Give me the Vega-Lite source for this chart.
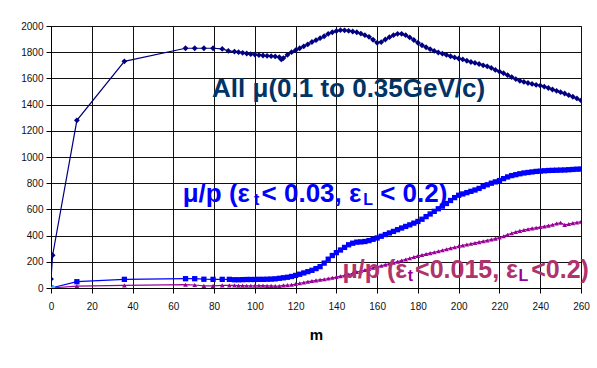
{
  "$schema": "https://vega.github.io/schema/vega-lite/v6.json",
  "width": 530,
  "height": 262,
  "autosize": {"type": "none"},
  "padding": {"left": 51, "top": 26, "right": 16, "bottom": 80},
  "background": "white",
  "config": {
    "view": {"stroke": "#000", "strokeWidth": 1},
    "font": "Liberation Sans",
    "axis": {
      "grid": true, "gridColor": "#111", "gridOpacity": 1, "gridWidth": 1,
      "domainColor": "#000", "tickColor": "#000", "tickSize": 5,
      "labelFont": "Liberation Sans", "labelFontSize": 10, "labelColor": "#111",
      "labelOverlap": false, "format": "d",
      "titleFont": "Liberation Sans"
    }
  },
  "datasets": {
    "series": [
      {"s":"all","m":0,"v":68},{"s":"all","m":0.8,"v":250},{"s":"all","m":12.7,"v":1280},{"s":"all","m":36,"v":1730},{"s":"all","m":66,"v":1830},{"s":"all","m":70.5,"v":1830},{"s":"all","m":75,"v":1830},{"s":"all","m":79.5,"v":1830},{"s":"all","m":84,"v":1825},{"s":"all","m":87,"v":1810},{"s":"all","m":90,"v":1805},{"s":"all","m":92,"v":1800},{"s":"all","m":94,"v":1795},{"s":"all","m":96,"v":1790},{"s":"all","m":98,"v":1785},{"s":"all","m":100,"v":1782},{"s":"all","m":102,"v":1778},{"s":"all","m":104,"v":1775},{"s":"all","m":106,"v":1772},{"s":"all","m":108,"v":1770},{"s":"all","m":110,"v":1768},{"s":"all","m":112,"v":1762},{"s":"all","m":113,"v":1745},{"s":"all","m":114,"v":1755},{"s":"all","m":116,"v":1780},{"s":"all","m":118,"v":1800},{"s":"all","m":120,"v":1815},{"s":"all","m":122,"v":1830},{"s":"all","m":124,"v":1845},{"s":"all","m":126,"v":1860},{"s":"all","m":128,"v":1878},{"s":"all","m":130,"v":1892},{"s":"all","m":132,"v":1907},{"s":"all","m":134,"v":1922},{"s":"all","m":136,"v":1940},{"s":"all","m":138,"v":1952},{"s":"all","m":140,"v":1962},{"s":"all","m":142,"v":1968},{"s":"all","m":144,"v":1967},{"s":"all","m":146,"v":1963},{"s":"all","m":148,"v":1958},{"s":"all","m":150,"v":1952},{"s":"all","m":152,"v":1942},{"s":"all","m":154,"v":1930},{"s":"all","m":156,"v":1917},{"s":"all","m":158,"v":1895},{"s":"all","m":160,"v":1872},{"s":"all","m":162,"v":1877},{"s":"all","m":164,"v":1897},{"s":"all","m":166,"v":1915},{"s":"all","m":168,"v":1930},{"s":"all","m":170,"v":1940},{"s":"all","m":172,"v":1940},{"s":"all","m":174,"v":1930},{"s":"all","m":176,"v":1913},{"s":"all","m":178,"v":1893},{"s":"all","m":180,"v":1872},{"s":"all","m":182,"v":1853},{"s":"all","m":184,"v":1838},{"s":"all","m":186,"v":1823},{"s":"all","m":188,"v":1810},{"s":"all","m":190,"v":1798},{"s":"all","m":192,"v":1789},{"s":"all","m":194,"v":1779},{"s":"all","m":196,"v":1769},{"s":"all","m":198,"v":1760},{"s":"all","m":200,"v":1752},{"s":"all","m":202,"v":1745},{"s":"all","m":204,"v":1735},{"s":"all","m":206,"v":1725},{"s":"all","m":208,"v":1718},{"s":"all","m":210,"v":1710},{"s":"all","m":212,"v":1700},{"s":"all","m":214,"v":1692},{"s":"all","m":216,"v":1680},{"s":"all","m":218,"v":1665},{"s":"all","m":220,"v":1652},{"s":"all","m":222,"v":1640},{"s":"all","m":224,"v":1625},{"s":"all","m":226,"v":1610},{"s":"all","m":228,"v":1595},{"s":"all","m":230,"v":1582},{"s":"all","m":232,"v":1573},{"s":"all","m":234,"v":1565},{"s":"all","m":236,"v":1558},{"s":"all","m":238,"v":1550},{"s":"all","m":240,"v":1545},{"s":"all","m":242,"v":1537},{"s":"all","m":244,"v":1527},{"s":"all","m":246,"v":1515},{"s":"all","m":248,"v":1505},{"s":"all","m":250,"v":1495},{"s":"all","m":252,"v":1485},{"s":"all","m":254,"v":1472},{"s":"all","m":256,"v":1460},{"s":"all","m":258,"v":1447},{"s":"all","m":260,"v":1432},
      {"s":"b","m":0,"v":0},{"s":"b","m":12.7,"v":48},{"s":"b","m":36,"v":66},{"s":"b","m":66,"v":71},{"s":"b","m":70.5,"v":71},{"s":"b","m":75,"v":67},{"s":"b","m":79.5,"v":66},{"s":"b","m":84,"v":66},{"s":"b","m":87.5,"v":66},{"s":"b","m":90,"v":63},{"s":"b","m":92,"v":63},{"s":"b","m":94,"v":64},{"s":"b","m":96,"v":65},{"s":"b","m":98,"v":65},{"s":"b","m":100,"v":65},{"s":"b","m":102,"v":66},{"s":"b","m":104,"v":66},{"s":"b","m":106,"v":67},{"s":"b","m":108,"v":68},{"s":"b","m":110,"v":70},{"s":"b","m":112,"v":74},{"s":"b","m":114,"v":78},{"s":"b","m":116,"v":82},{"s":"b","m":118,"v":88},{"s":"b","m":120,"v":96},{"s":"b","m":122,"v":105},{"s":"b","m":124,"v":115},{"s":"b","m":126,"v":125},{"s":"b","m":128,"v":135},{"s":"b","m":130,"v":148},{"s":"b","m":132,"v":163},{"s":"b","m":134,"v":190},{"s":"b","m":136,"v":220},{"s":"b","m":138,"v":248},{"s":"b","m":140,"v":270},{"s":"b","m":142,"v":290},{"s":"b","m":144,"v":310},{"s":"b","m":146,"v":330},{"s":"b","m":148,"v":342},{"s":"b","m":150,"v":350},{"s":"b","m":152,"v":352},{"s":"b","m":154,"v":355},{"s":"b","m":156,"v":362},{"s":"b","m":158,"v":372},{"s":"b","m":160,"v":382},{"s":"b","m":162,"v":395},{"s":"b","m":164,"v":408},{"s":"b","m":166,"v":420},{"s":"b","m":168,"v":432},{"s":"b","m":170,"v":445},{"s":"b","m":172,"v":458},{"s":"b","m":174,"v":470},{"s":"b","m":176,"v":482},{"s":"b","m":178,"v":495},{"s":"b","m":180,"v":508},{"s":"b","m":182,"v":525},{"s":"b","m":184,"v":545},{"s":"b","m":186,"v":565},{"s":"b","m":188,"v":585},{"s":"b","m":190,"v":605},{"s":"b","m":192,"v":625},{"s":"b","m":194,"v":645},{"s":"b","m":196,"v":668},{"s":"b","m":198,"v":690},{"s":"b","m":200,"v":708},{"s":"b","m":202,"v":718},{"s":"b","m":204,"v":728},{"s":"b","m":206,"v":738},{"s":"b","m":208,"v":748},{"s":"b","m":210,"v":760},{"s":"b","m":212,"v":775},{"s":"b","m":214,"v":788},{"s":"b","m":216,"v":800},{"s":"b","m":218,"v":810},{"s":"b","m":220,"v":820},{"s":"b","m":222,"v":835},{"s":"b","m":224,"v":848},{"s":"b","m":226,"v":858},{"s":"b","m":228,"v":865},{"s":"b","m":230,"v":872},{"s":"b","m":232,"v":878},{"s":"b","m":234,"v":882},{"s":"b","m":236,"v":886},{"s":"b","m":238,"v":890},{"s":"b","m":240,"v":892},{"s":"b","m":242,"v":895},{"s":"b","m":244,"v":897},{"s":"b","m":246,"v":898},{"s":"b","m":248,"v":899},{"s":"b","m":250,"v":900},{"s":"b","m":252,"v":901},{"s":"b","m":254,"v":903},{"s":"b","m":256,"v":905},{"s":"b","m":258,"v":907},{"s":"b","m":260,"v":908},
      {"s":"p","m":0,"v":0},{"s":"p","m":12.7,"v":15},{"s":"p","m":36,"v":20},{"s":"p","m":66,"v":25},{"s":"p","m":70.5,"v":23},{"s":"p","m":75,"v":16},{"s":"p","m":79.5,"v":16},{"s":"p","m":84,"v":20},{"s":"p","m":87.5,"v":20},{"s":"p","m":90,"v":20},{"s":"p","m":92,"v":18},{"s":"p","m":94,"v":18},{"s":"p","m":96,"v":17},{"s":"p","m":98,"v":17},{"s":"p","m":100,"v":17},{"s":"p","m":102,"v":18},{"s":"p","m":104,"v":18},{"s":"p","m":106,"v":16},{"s":"p","m":108,"v":16},{"s":"p","m":110,"v":15},{"s":"p","m":112,"v":15},{"s":"p","m":114,"v":20},{"s":"p","m":116,"v":22},{"s":"p","m":118,"v":25},{"s":"p","m":120,"v":30},{"s":"p","m":122,"v":36},{"s":"p","m":124,"v":42},{"s":"p","m":126,"v":48},{"s":"p","m":128,"v":53},{"s":"p","m":130,"v":58},{"s":"p","m":132,"v":63},{"s":"p","m":134,"v":67},{"s":"p","m":136,"v":72},{"s":"p","m":138,"v":78},{"s":"p","m":140,"v":84},{"s":"p","m":142,"v":90},{"s":"p","m":144,"v":95},{"s":"p","m":146,"v":102},{"s":"p","m":148,"v":112},{"s":"p","m":150,"v":122},{"s":"p","m":152,"v":130},{"s":"p","m":154,"v":137},{"s":"p","m":156,"v":145},{"s":"p","m":158,"v":155},{"s":"p","m":160,"v":163},{"s":"p","m":162,"v":170},{"s":"p","m":164,"v":178},{"s":"p","m":166,"v":185},{"s":"p","m":168,"v":193},{"s":"p","m":170,"v":201},{"s":"p","m":172,"v":210},{"s":"p","m":174,"v":218},{"s":"p","m":176,"v":227},{"s":"p","m":178,"v":236},{"s":"p","m":180,"v":245},{"s":"p","m":182,"v":252},{"s":"p","m":184,"v":259},{"s":"p","m":186,"v":266},{"s":"p","m":188,"v":273},{"s":"p","m":190,"v":280},{"s":"p","m":192,"v":288},{"s":"p","m":194,"v":296},{"s":"p","m":196,"v":304},{"s":"p","m":198,"v":311},{"s":"p","m":200,"v":318},{"s":"p","m":202,"v":325},{"s":"p","m":204,"v":332},{"s":"p","m":206,"v":338},{"s":"p","m":208,"v":344},{"s":"p","m":210,"v":350},{"s":"p","m":212,"v":357},{"s":"p","m":214,"v":363},{"s":"p","m":216,"v":370},{"s":"p","m":218,"v":377},{"s":"p","m":220,"v":385},{"s":"p","m":222,"v":395},{"s":"p","m":224,"v":407},{"s":"p","m":226,"v":418},{"s":"p","m":228,"v":428},{"s":"p","m":230,"v":436},{"s":"p","m":232,"v":443},{"s":"p","m":234,"v":449},{"s":"p","m":236,"v":455},{"s":"p","m":238,"v":460},{"s":"p","m":240,"v":465},{"s":"p","m":242,"v":470},{"s":"p","m":244,"v":476},{"s":"p","m":246,"v":483},{"s":"p","m":248,"v":492},{"s":"p","m":250,"v":498},{"s":"p","m":252,"v":482},{"s":"p","m":254,"v":488},{"s":"p","m":256,"v":495},{"s":"p","m":258,"v":500},{"s":"p","m":260,"v":506},
      {"s":"c","m":1,"v":3}
    ],
    "ann": [
      {"g":"navy","k":"main","t":"All μ(0.1 to 0.35GeV/c)","m":79.0,"v":1460},
      {"g":"blue","k":"main","t":"μ/p (ε","m":64.6,"v":659},
      {"g":"blue","k":"sub","t":"t","m":99.6,"v":634},
      {"g":"blue","k":"main","t":"< 0.03, ε","m":103.3,"v":659},
      {"g":"blue","k":"sub","t":"L","m":153.2,"v":634},
      {"g":"blue","k":"main","t":"< 0.2)","m":161.5,"v":659},
      {"g":"purple","k":"main","t":"μ/p (ε","m":143.0,"v":74},
      {"g":"purple","k":"sub","t":"t","m":175.0,"v":53},
      {"g":"purple","k":"main","t":"<0.015, ε","m":178.6,"v":74},
      {"g":"purple","k":"sub","t":"L","m":229.4,"v":53},
      {"g":"purple","k":"main","t":"<0.2)","m":235.6,"v":74}
    ]
  },
  "encoding": {
    "x": {"field": "m", "type": "quantitative", "scale": {"domain": [0, 260], "nice": false},
          "axis": {"values": [0,20,40,60,80,100,120,140,160,180,200,220,240,260], "title": "m",
                   "titleFontWeight": "bold", "titleFontSize": 15, "titlePadding": 16, "labelPadding": 8, "labelFlush": false}},
    "y": {"field": "v", "type": "quantitative", "scale": {"domain": [0, 2000], "nice": false},
          "axis": {"values": [0,200,400,600,800,1000,1200,1400,1600,1800,2000], "title": null, "labelPadding": 3, "labelFlush": false}}
  },
  "layer": [
    {
      "data": {"name": "series"},
      "transform": [{"filter": "datum.s !== 'c'"}],
      "mark": {"type": "line", "strokeWidth": 1.2, "clip": true},
      "encoding": {
        "color": {"field": "s", "type": "nominal", "scale": {"domain": ["all","b","p","c"], "range": ["#000080","#0000ff","#990099","#00e5ff"]}, "legend": null}
      }
    },
    {
      "data": {"name": "series"},
      "mark": {"type": "point", "filled": true, "opacity": 1, "clip": true},
      "encoding": {
        "color": {"field": "s", "type": "nominal", "scale": {"domain": ["all","b","p","c"], "range": ["#003366","#0000ff","#990099","#00e5ff"]}, "legend": null},
        "shape": {"field": "s", "type": "nominal", "scale": {"domain": ["all","b","p","c"], "range": ["diamond","square","triangle-up","cross"]}, "legend": null},
        "size": {"field": "s", "type": "nominal", "scale": {"domain": ["all","b","p","c"], "range": [34,16,16,20]}, "legend": null}
      }
    },
    {
      "data": {"name": "ann"},
      "transform": [{"filter": "datum.k === 'main' && datum.g === 'navy'"}],
      "mark": {"type": "text", "align": "left", "baseline": "alphabetic", "fontWeight": "bold", "font": "Liberation Sans", "fontSize": 26, "color": "#003366"},
      "encoding": {"text": {"field": "t"}}
    },
    {
      "data": {"name": "ann"},
      "transform": [{"filter": "datum.k === 'main' && datum.g === 'blue'"}],
      "mark": {"type": "text", "align": "left", "baseline": "alphabetic", "fontWeight": "bold", "font": "Liberation Sans", "fontSize": 26, "color": "#0000ff"},
      "encoding": {"text": {"field": "t"}}
    },
    {
      "data": {"name": "ann"},
      "transform": [{"filter": "datum.k === 'main' && datum.g === 'purple'"}],
      "mark": {"type": "text", "align": "left", "baseline": "alphabetic", "fontWeight": "bold", "font": "Liberation Sans", "fontSize": 25, "color": "#b0336c"},
      "encoding": {"text": {"field": "t"}}
    },
    {
      "data": {"name": "ann"},
      "transform": [{"filter": "datum.k === 'sub'"}],
      "mark": {"type": "text", "align": "left", "baseline": "alphabetic", "fontWeight": "bold", "font": "Liberation Sans", "fontSize": 16},
      "encoding": {
        "text": {"field": "t"},
        "color": {"field": "g", "type": "nominal", "scale": {"domain": ["navy","blue","purple"], "range": ["#003366","#0000ff","#b0336c"]}, "legend": null}
      }
    }
  ]
}
